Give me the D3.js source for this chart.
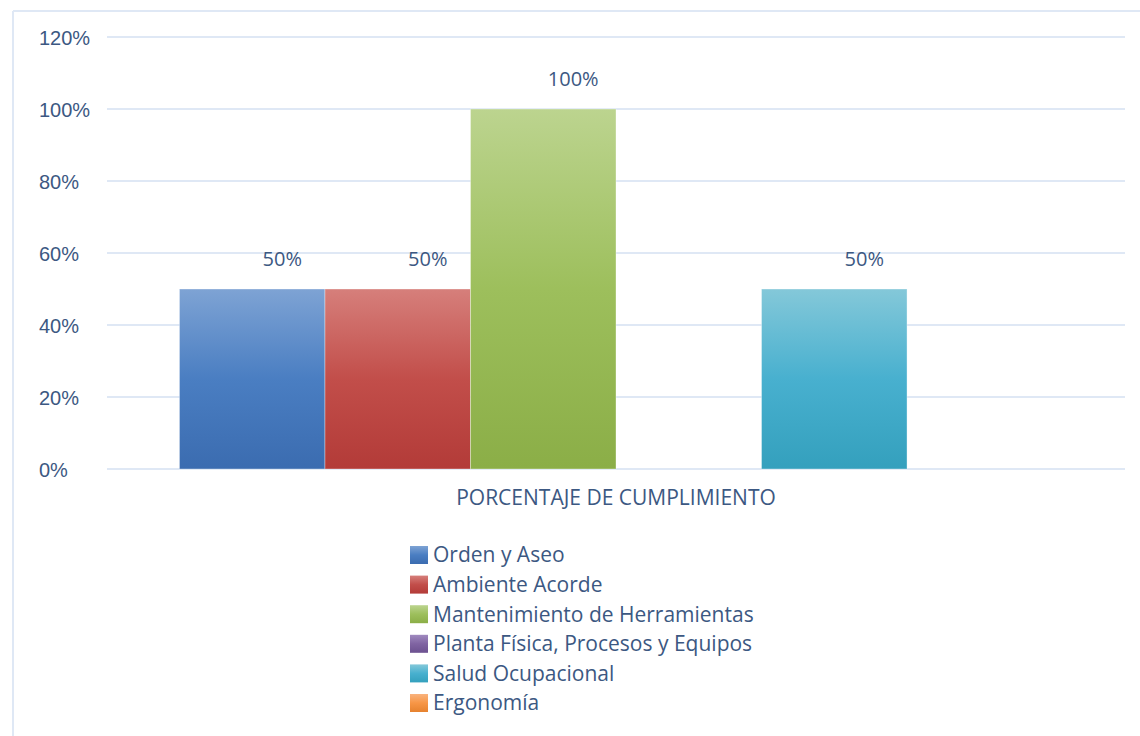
<!DOCTYPE html>
<html>
<head>
<meta charset="utf-8">
<script src="https://cdn.jsdelivr.net/npm/d3@7"></script>
<style>
  html, body { margin: 0; padding: 0; background: #fff; }
  svg { display: block; font-family: "Open Sans", "Liberation Sans", sans-serif; }
</style>
</head>
<body>
<svg id="chart" width="1140" height="736"></svg>
<script>
// Compliance percentage by area
const categories = ["PORCENTAJE DE CUMPLIMIENTO"];
const seriesNames = [
  "Orden y Aseo",
  "Ambiente Acorde",
  "Mantenimiento de Herramientas",
  "Planta Física, Procesos y Equipos",
  "Salud Ocupacional",
  "Ergonomía"
];
const seriesValues = [0.5, 0.5, 1.0, 0, 0.5, 0];
const yTicks = [0, 0.2, 0.4, 0.6, 0.8, 1.0, 1.2];

// Gradient stops per series: top, middle, bottom
const seriesColors = [
  ["#7ea3d4", "#4a7ec2", "#3b6cb0"],
  ["#d67f7b", "#c24e4a", "#b33b38"],
  ["#bcd48f", "#9dbf5c", "#8bae47"],
  ["#a08abf", "#8064a2", "#6c5190"],
  ["#84c8d9", "#48b0cf", "#34a0bd"],
  ["#f9b37e", "#f79646", "#e6822f"]
];

const textColor = "#3c5882";
const gridColor = "#dfe8f5";

const svg = d3.select("#chart");
const defs = svg.append("defs");

seriesColors.forEach((c, i) => {
  const g = defs.append("linearGradient")
    .attr("id", "grad" + i)
    .attr("x1", 0).attr("y1", 0).attr("x2", 0).attr("y2", 1);
  g.append("stop").attr("offset", "0%").attr("stop-color", c[0]);
  g.append("stop").attr("offset", "50%").attr("stop-color", c[1]);
  g.append("stop").attr("offset", "100%").attr("stop-color", c[2]);
});

// Outer frame (top and left edges visible)
svg.append("line").attr("x1", 13).attr("x2", 1140).attr("y1", 11).attr("y2", 11)
  .attr("stroke", gridColor).attr("stroke-width", 2);
svg.append("line").attr("x1", 13).attr("x2", 13).attr("y1", 11).attr("y2", 736)
  .attr("stroke", gridColor).attr("stroke-width", 2);

const plot = { left: 107, right: 1125, top: 37, bottom: 469 };

const y = d3.scaleLinear().domain([0, 1.2]).range([plot.bottom, plot.top]);
const x0 = d3.scaleBand().domain(categories).range([plot.left, plot.right])
  .paddingInner(0).paddingOuter(0.083);
const x1 = d3.scaleBand().domain(seriesNames).range([0, x0.bandwidth()]).padding(0);

// Gridlines
svg.append("g").selectAll("line").data(yTicks).join("line")
  .attr("x1", plot.left).attr("x2", plot.right)
  .attr("y1", d => y(d)).attr("y2", d => y(d))
  .attr("stroke", gridColor).attr("stroke-width", 2);

// Y axis labels, left-aligned
const yAxis = d3.axisLeft(y).tickValues(yTicks).tickFormat(d3.format(".0%")).tickSize(0).tickPadding(0);
const yg = svg.append("g").attr("transform", `translate(39,0)`).call(yAxis);
yg.select(".domain").remove();
yg.selectAll("text")
  .attr("fill", textColor)
  .attr("text-anchor", "start")
  .attr("x", 0)
  .style("font-size", "20px")
  .attr("dy", "0.35em");

// Bars
const group = svg.append("g").selectAll("g").data(categories).join("g")
  .attr("transform", d => `translate(${x0(d)},0)`);

const barData = seriesNames.map((name, i) => ({ name, value: seriesValues[i], i }));

group.selectAll("rect").data(barData).join("rect")
  .attr("x", d => x1(d.name))
  .attr("y", d => y(d.value))
  .attr("width", x1.bandwidth())
  .attr("height", d => y(0) - y(d.value))
  .attr("fill", d => `url(#grad${d.i})`)
  .attr("stroke", "rgba(255,255,255,0.35)")
  .attr("stroke-width", 1);

// Value labels (only for non-zero bars)
group.selectAll("text.val").data(barData.filter(d => d.value > 0)).join("text")
  .attr("class", "val")
  .attr("x", d => x1(d.name) + x1.bandwidth() / 2 + 30)
  .attr("y", d => y(d.value) - 23)
  .attr("text-anchor", "middle")
  .attr("fill", textColor)
  .style("font-size", "20px")
  .text(d => d3.format(".0%")(d.value));

// Category label
svg.append("g").selectAll("text").data(categories).join("text")
  .attr("x", d => x0(d) + x0.bandwidth() / 2)
  .attr("y", 505)
  .attr("text-anchor", "middle")
  .attr("fill", textColor)
  .style("font-size", "21px")
  .text(d => d);

// Legend
const legend = svg.append("g").attr("transform", "translate(410,555)");
const rowH = 29.6;
const item = legend.selectAll("g").data(seriesNames).join("g")
  .attr("transform", (d, i) => `translate(0,${i * rowH})`);
item.append("rect")
  .attr("x", 0).attr("y", -9).attr("width", 18).attr("height", 18)
  .attr("fill", (d, i) => `url(#grad${i})`);
item.append("text")
  .attr("x", 23).attr("y", 0).attr("dy", "0.35em")
  .attr("fill", textColor)
  .style("font-size", "21px")
  .text(d => d);
</script>
</body>
</html>
